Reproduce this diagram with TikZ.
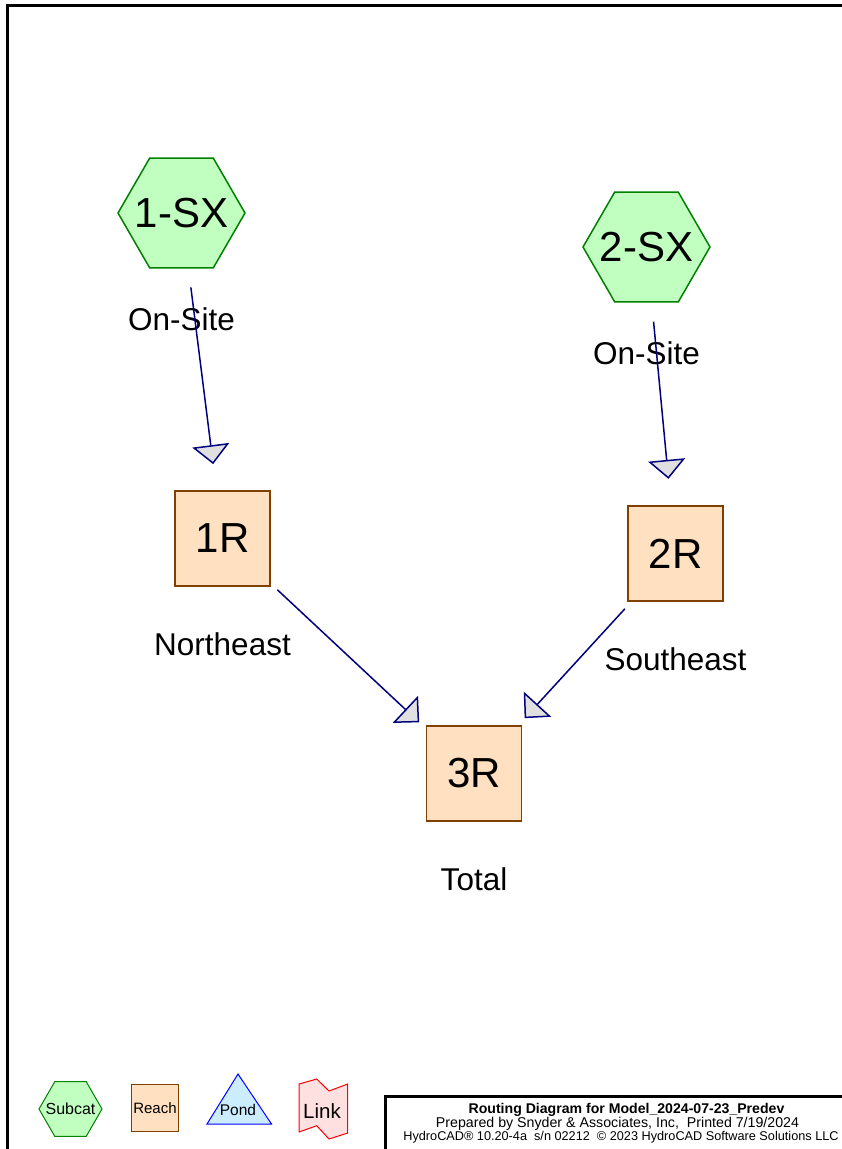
\documentclass[tikz,border=0pt]{standalone}
\usepackage{fontspec}
\setmainfont{Liberation Sans}
\usetikzlibrary{arrows.meta, shapes.geometric, positioning}
\definecolor{subfill}{RGB}{192,255,192}
\definecolor{subline}{RGB}{0,128,0}
\definecolor{reachfill}{RGB}{255,224,192}
\definecolor{reachline}{RGB}{128,64,0}
\definecolor{flowline}{RGB}{0,0,128}
\definecolor{tipfill}{RGB}{224,224,224}
\definecolor{pondfill}{RGB}{204,236,255}
\definecolor{pondline}{RGB}{0,0,255}
\definecolor{linkfill}{RGB}{255,224,224}
\definecolor{linkline}{RGB}{255,0,0}

\begin{document}
\begin{tikzpicture}[x=1pt,y=-1pt,
    subcat/.style={regular polygon, regular polygon sides=6, minimum size=127pt, inner sep=-8pt, draw=subline, fill=subfill, line width=1.5pt, font=\fontsize{42}{48}\selectfont},
    reach/.style={rectangle, minimum size=95pt, inner sep=0pt, draw=reachline, fill=reachfill, line width=1.5pt, font=\fontsize{42}{48}\selectfont},
    desc/.style={font=\fontsize{31.5}{36}\selectfont},
    flow/.style={draw=flowline, line width=1.5pt, -{Triangle[length=19pt,width=37pt,fill=tipfill]}, shorten <=75pt, shorten >=75pt},
    block/.style={anchor=base, font=\fontsize{14.2}{16}\selectfont}]
            \useasboundingbox (0,0) rectangle (842,1149);
            \draw[line width=3pt] (7,1160) -- (7,5) -- (850,5);
            % subcatchments and reaches
            \node[subcat] (sub1) at (181.5,213) {1-SX};
            \node[subcat] (sub2) at (646.5,247) {2-SX};
            \node[reach] (reach1) at (222.5,538.5) {1R};
            \node[reach] (reach2) at (675.5,553.5) {2R};
            \node[reach] (reach3) at (474,773.5) {3R};
            \node[desc, below=106pt of sub1.center, anchor=center] (sub1lbl) {On-Site};
            \node[desc, below=106pt of sub2.center, anchor=center] (sub2lbl) {On-Site};
            \node[desc, below=106pt of reach1.center, anchor=center] (reach1lbl) {Northeast};
            \node[desc, below=106pt of reach2.center, anchor=center] (reach2lbl) {Southeast};
            \node[desc, below=106pt of reach3.center, anchor=center] (reach3lbl) {Total};
            \draw[flow] (sub1.center) -- (reach1.center);
            \draw[flow] (sub2.center) -- (reach2.center);
            \draw[flow] (reach1.center) -- (reach3.center);
            \draw[flow] (reach2.center) -- (reach3.center);
            % legend
            \node[subcat, minimum size=63pt, inner sep=-6pt, line width=1pt, font=\fontsize{16}{19}\selectfont] (legsub) at (70.5,1109) {Subcat};
            \node[reach, minimum size=47.5pt, line width=1pt, font=\fontsize{15}{18}\selectfont] (legreach) at (155,1108) {Reach};
            \draw[draw=pondline, fill=pondfill, line width=1pt] (238,1074) -- (271.5,1124) -- (207,1124) -- cycle;
            \node[font=\fontsize{15.5}{18}\selectfont] (legpond) at (238,1110) {Pond};
            \draw[draw=linkline, fill=linkfill, line width=1pt] (299,1084) -- (316.7,1079) -- (329,1091) -- (347.7,1084) -- (347.7,1133) -- (329,1139) -- (316.7,1125.7) -- (299,1132) -- cycle;
            \node[font=\fontsize{20.5}{24}\selectfont] (leglink) at (322,1110.7) {Link};
            % title block
            \draw[line width=3pt, fill=white] (385,1096) rectangle (850,1160);
            \node[block, font=\bfseries\fontsize{14.1}{16}\selectfont] (title) at (626.5,1113) {Routing Diagram for Model\_2024-07-23\_Predev};
            \node[block] (prep) at (617.5,1127) {Prepared by Snyder \& Associates, Inc,\ \ Printed 7/19/2024};
            \node[block, font=\fontsize{12.7}{15}\selectfont] (ver) at (621,1140) {HydroCAD® 10.20-4a\ \ s/n 02212\ \ © 2023 HydroCAD Software Solutions LLC};
        \end{tikzpicture}
\end{document}
